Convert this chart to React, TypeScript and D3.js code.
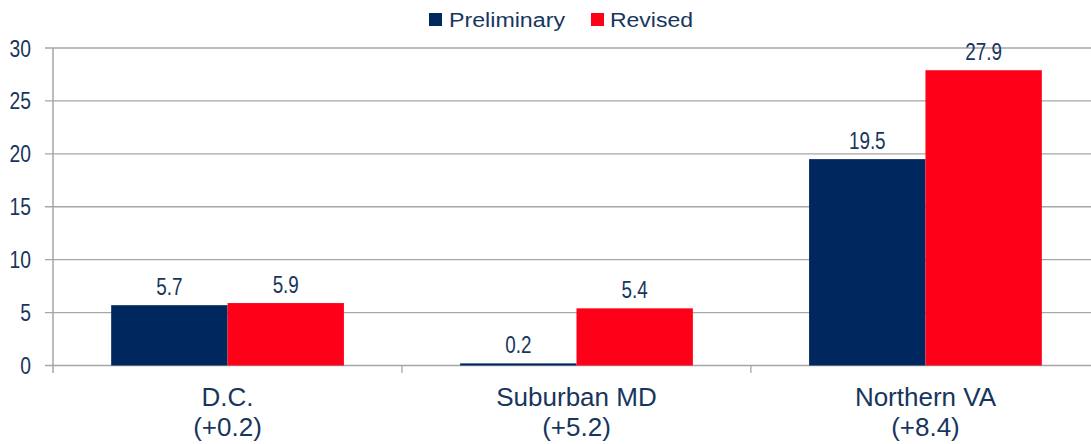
import React from "react";
import * as d3 from "d3";

const categories = ["D.C.", "Suburban MD", "Northern VA"];
const categoryNotes = ["(+0.2)", "(+5.2)", "(+8.4)"];
const seriesNames = ["Preliminary", "Revised"];
const preliminary = [5.7, 0.2, 19.5];
const revised = [5.9, 5.4, 27.9];
const yTicks = [0, 5, 10, 15, 20, 25, 30];

const W = 1091;
const H = 444;
const colors = ["#00285e", "#ff0019"];
const textColor = "#17365d";
const gridColor = "#a6a6a6";

export default function App() {
  const left = 53;
  const right = 1100;
  const y = d3.scaleLinear().domain([0, 30]).range([365.5, 48]);
  const x0 = d3.scaleBand<string>().domain(categories).range([left, right]).paddingInner(0.333).paddingOuter(0.1667);
  const x1 = d3.scaleBand<string>().domain(seriesNames).range([0, x0.bandwidth()]);
  const series = [preliminary, revised];
  const step = x0.step();

  return (
    <svg width={W} height={H} style={{ position: "absolute", left: 0, top: 0, background: "#fff" }} fontFamily="Liberation Sans, Arial, sans-serif">
      {yTicks.map((t) => (
        <g key={t}>
          <line x1={45} x2={W} y1={y(t)} y2={y(t)} stroke={gridColor} strokeWidth={1.3} />
          <text transform={`translate(31,${y(t) + 8.5}) scale(0.82,1)`} textAnchor="end" fontSize={23.5} fill={textColor}>
            {t}
          </text>
        </g>
      ))}
      <line x1={left} x2={left} y1={y(30)} y2={373} stroke={gridColor} strokeWidth={1.5} />
      {[1, 2].map((i) => (
        <line key={i} x1={left + i * step} x2={left + i * step} y1={y(0)} y2={373} stroke={gridColor} strokeWidth={1.3} />
      ))}
      {categories.map((c, ci) => (
        <g key={c}>
          {seriesNames.map((s, si) => {
            const v = series[si][ci];
            const bx = (x0(c) as number) + (x1(s) as number);
            const bw = x1.bandwidth();
            return (
              <g key={s}>
                <rect x={bx} y={y(v)} width={bw} height={y(0) - y(v)} fill={colors[si]} />
                <text
                  transform={`translate(${bx + bw / 2},${y(v) - 10}) scale(0.82,1)`}
                  textAnchor="middle"
                  fontSize={23}
                  fill={textColor}
                >
                  {v.toFixed(1)}
                </text>
              </g>
            );
          })}
          <text x={(x0(c) as number) + x0.bandwidth() / 2} y={406} textAnchor="middle" fontSize={26} fill={textColor}>
            {c}
          </text>
          <text x={(x0(c) as number) + x0.bandwidth() / 2} y={435.5} textAnchor="middle" fontSize={26} fill={textColor}>
            {categoryNotes[ci]}
          </text>
        </g>
      ))}
      <g>
        <rect x={429} y={13} width={13} height={13} fill={colors[0]} />
        <text x={449} y={27} fontSize={20} fill={textColor} textLength={116} lengthAdjust="spacingAndGlyphs">
          {seriesNames[0]}
        </text>
        <rect x={591} y={13} width={13} height={13} fill={colors[1]} />
        <text x={610} y={27} fontSize={20} fill={textColor} textLength={83} lengthAdjust="spacingAndGlyphs">
          {seriesNames[1]}
        </text>
      </g>
    </svg>
  );
}
